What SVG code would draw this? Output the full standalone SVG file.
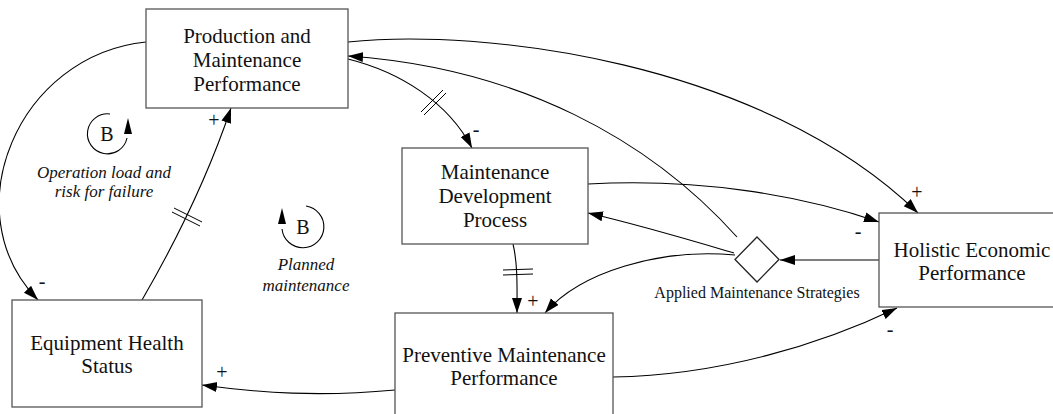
<svg xmlns="http://www.w3.org/2000/svg" width="1053" height="414" viewBox="0 0 1053 414">
  <style>
    text { font-family: 'Liberation Serif', 'Times New Roman', serif; fill: #111111; text-anchor: middle; }
    .box { fill: #ffffff; stroke: #555555; stroke-width: 1.3; }
    .lbl { font-size: 21px; }
    .loop { font-size: 17px; font-style: italic; }
    .sign { font-size: 20px; }
    .small { font-size: 16px; }
    .link { fill: none; stroke: #000000; stroke-width: 1.1; }
    .arrow { fill: none; stroke: #000000; stroke-width: 1.1; marker-end: url(#head); }
    .delay { stroke: #000000; stroke-width: 1; }
  </style>
  <defs>
    <marker id="head" markerUnits="userSpaceOnUse" markerWidth="16" markerHeight="11" refX="15" refY="5" orient="auto">
      <path d="M0,0 L15,5 L0,10 z" fill="#000000"/>
    </marker>
  </defs>

  <rect width="1053" height="414" fill="#ffffff"/>

  <!-- causal links -->
  <g id="connectors">
    <!-- Production -> Equipment Health (-) -->
    <path class="arrow" d="M146,42 C 18,55 -48,212 38,300"/>
    <!-- Equipment Health -> Production (+), delayed -->
    <path class="arrow" d="M142,300 Q 200,200 231,108"/>
    <!-- Production -> Maintenance Development (-), delayed -->
    <path class="arrow" d="M348,59 C 400,72 448,102 472,148"/>
    <!-- Strategies -> Production -->
    <path class="arrow" d="M737,237 C 650,140 520,68 348,56"/>
    <!-- Production -> Holistic Economic (+) -->
    <path class="arrow" d="M348,42 C 480,28 760,60 918,213"/>
    <!-- Maintenance Development -> Holistic Economic (-) -->
    <path class="arrow" d="M588,184 C 700,178 800,195 879,222"/>
    <!-- Holistic Economic -> Strategies -->
    <path class="arrow" d="M879,260 L 780,260"/>
    <!-- Strategies -> Maintenance Development -->
    <path class="arrow" d="M734,253 C 690,240 640,225 588,213"/>
    <!-- Strategies -> Preventive -->
    <path class="arrow" d="M735,255 C 660,248 580,272 545,313"/>
    <!-- Maintenance Development -> Preventive (+), delayed -->
    <path class="arrow" d="M513,244 C 518,265 517,290 517,313"/>
    <!-- Preventive -> Equipment Health (+) -->
    <path class="arrow" d="M395,390 C 320,397 260,393 202,385"/>
    <!-- Preventive -> Holistic Economic (-) -->
    <path class="arrow" d="M613,377 C 720,375 820,345 897,308"/>

    <!-- delay marks -->
    <line class="delay" x1="174" y1="208" x2="202" y2="222"/>
    <line class="delay" x1="172" y1="212" x2="200" y2="226"/>
    <line class="delay" x1="421" y1="112" x2="443" y2="90"/>
    <line class="delay" x1="424" y1="115" x2="446" y2="93"/>
    <line class="delay" x1="503" y1="270" x2="533" y2="269"/>
    <line class="delay" x1="503" y1="275" x2="533" y2="274"/>

    <!-- polarity signs -->
    <text class="sign" x="214" y="127">+</text>
    <text class="sign" x="42" y="288">-</text>
    <text class="sign" x="476" y="136">-</text>
    <text class="sign" x="917" y="199">+</text>
    <text class="sign" x="858" y="238">-</text>
    <text class="sign" x="890" y="336">-</text>
    <text class="sign" x="533" y="308">+</text>
    <text class="sign" x="222" y="379">+</text>
  </g>

  <g id="production">
    <rect class="box" x="146" y="9" width="202" height="99"/>
    <text class="lbl" x="247" y="43">Production and</text>
    <text class="lbl" x="247" y="67">Maintenance</text>
    <text class="lbl" x="247" y="91">Performance</text>
  </g>

  <g id="development">
    <rect class="box" x="402" y="148" width="186" height="96"/>
    <text class="lbl" x="495" y="179">Maintenance</text>
    <text class="lbl" x="495" y="203">Development</text>
    <text class="lbl" x="495" y="227">Process</text>
  </g>

  <g id="equipment">
    <rect class="box" x="12" y="300" width="190" height="107"/>
    <text class="lbl" x="107" y="350">Equipment Health</text>
    <text class="lbl" x="107" y="373">Status</text>
  </g>

  <g id="preventive">
    <rect class="box" x="395" y="313" width="218" height="110"/>
    <text class="lbl" x="504" y="362">Preventive Maintenance</text>
    <text class="lbl" x="504" y="385">Performance</text>
  </g>

  <g id="holistic">
    <rect class="box" x="879" y="213" width="190" height="94"/>
    <text class="lbl" x="972" y="257">Holistic Economic</text>
    <text class="lbl" x="972" y="280">Performance</text>
  </g>

  <g id="strategies">
    <path class="box" d="M757,237 L779,259.5 L757,282 L735,259.5 z" style="stroke:#222222"/>
    <text class="small" x="757" y="298">Applied Maintenance Strategies</text>
  </g>

  <g id="loop-operation">
    <path class="link" d="M110,114 A20,20 0 1 0 127,138"/>
    <path d="M128,118 L124,134 L132,134 z" fill="#000000"/>
    <text class="sign" x="107" y="141">B</text>
    <text class="loop" x="104" y="178">Operation load and</text>
    <text class="loop" x="104" y="197">risk for failure</text>
  </g>

  <g id="loop-planned">
    <path class="link" d="M306,206 A21,21 0 1 1 282,229"/>
    <path d="M282,208 L278,224 L286,224 z" fill="#000000"/>
    <text class="sign" x="303" y="234">B</text>
    <text class="loop" x="306" y="270">Planned</text>
    <text class="loop" x="306" y="291">maintenance</text>
  </g>
</svg>
